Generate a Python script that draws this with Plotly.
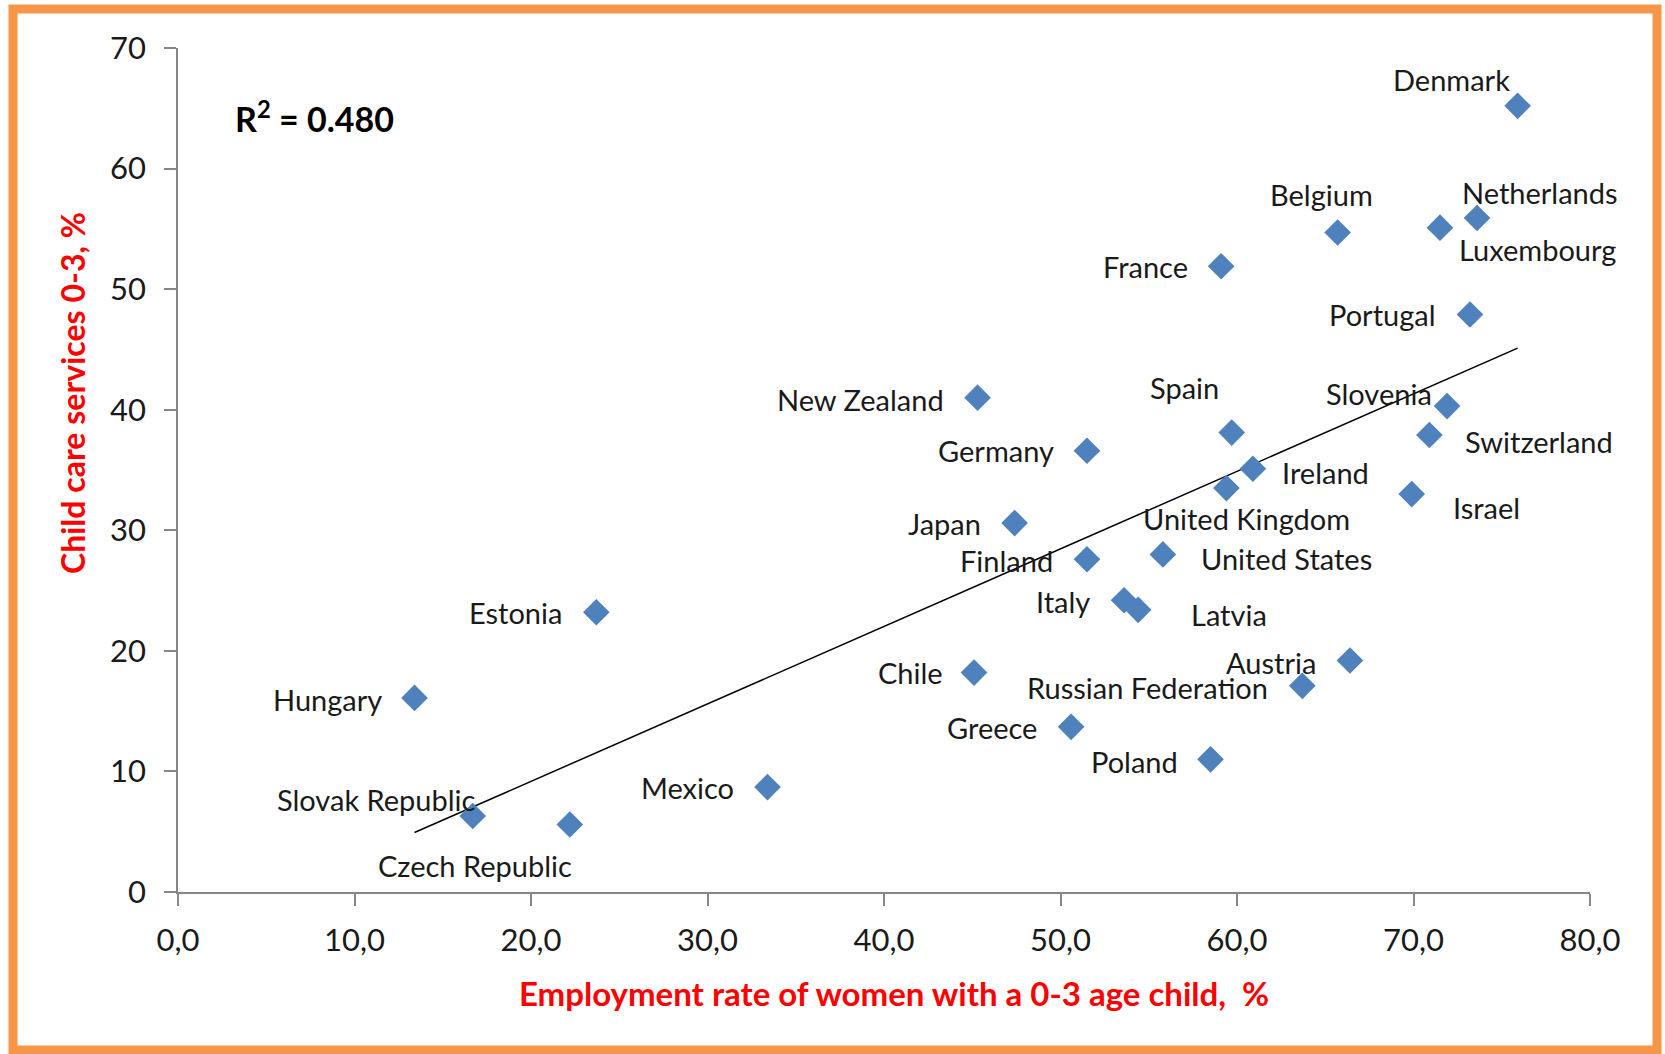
import numpy as np
import plotly.graph_objects as go

countries = ["Denmark", "Netherlands", "Luxembourg", "Belgium", "France", "Portugal",
             "Slovenia", "Switzerland", "Israel", "Spain", "Ireland", "United Kingdom",
             "United States", "New Zealand", "Germany", "Japan", "Finland", "Italy",
             "Latvia", "Estonia", "Chile", "Austria", "Russian Federation", "Greece",
             "Poland", "Hungary", "Mexico", "Slovak Republic", "Czech Republic"]
employment = [75.9, 73.6, 71.5, 65.7, 59.1, 73.2,
              71.9, 70.9, 69.9, 59.7, 60.9, 59.4,
              55.8, 45.3, 51.5, 47.4, 51.5, 53.6,
              54.4, 23.7, 45.1, 66.4, 63.7, 50.6,
              58.5, 13.4, 33.4, 16.7, 22.2]
childcare = [65.2, 55.9, 55.1, 54.7, 51.9, 47.9,
             40.3, 37.9, 33.0, 38.1, 35.1, 33.5,
             28.0, 41.0, 36.6, 30.6, 27.6, 24.2,
             23.4, 23.2, 18.2, 19.2, 17.1, 13.7,
             11.0, 16.1, 8.7, 6.3, 5.6]
x_ticks = [0, 10, 20, 30, 40, 50, 60, 70, 80]
x_tick_labels = ["0,0", "10,0", "20,0", "30,0", "40,0", "50,0", "60,0", "70,0", "80,0"]
y_ticks = [0, 10, 20, 30, 40, 50, 60, 70]
r2_text = "R<sup>2</sup> = 0.480"

# label offsets (pixels, right / up) relative to the marker
label_offsets = {
    "Denmark": (-66, 26), "Netherlands": (63, 26), "Luxembourg": (98, -22),
    "Belgium": (-16, 38), "France": (-76, 0), "Portugal": (-87, 0),
    "Slovenia": (-68, 13), "Switzerland": (110, -6), "Israel": (75, -13),
    "Spain": (-47, 45), "Ireland": (73, -4), "United Kingdom": (20, -30),
    "United States": (124, -4), "New Zealand": (-117, -2), "Germany": (-91, 0),
    "Japan": (-70, 0), "Finland": (-80, -1), "Italy": (-61, -1),
    "Latvia": (91, -5), "Estonia": (-81, 0), "Chile": (-64, 0),
    "Austria": (-79, -2), "Russian Federation": (-155, -2), "Greece": (-79, -1),
    "Poland": (-76, -2), "Hungary": (-87, -2), "Mexico": (-80, 0),
    "Slovak Republic": (-96, 17), "Czech Republic": (-95, -41),
}

W, H = 1665, 1054
ml, mr, mt, mb = 178, 75, 48, 162
pw, ph = W - ml - mr, H - mt - mb


def px(x):
    return (x - ml) / pw


def py(y):
    return 1 - (y - mt) / ph


font_family = "Lato, 'Open Sans', sans-serif"

fig = go.Figure()

# linear trendline from data
coef = np.polyfit(employment, childcare, 1)
xs = np.array([min(employment), max(employment)])
fig.add_trace(go.Scatter(x=xs, y=np.polyval(coef, xs), mode="lines",
                         line=dict(color="black", width=1.5), hoverinfo="skip",
                         showlegend=False))

fig.add_trace(go.Scatter(x=employment, y=childcare, mode="markers",
                         marker=dict(symbol="diamond", size=20.5, color="#4F81BD"),
                         text=countries, showlegend=False))

for c, xv, yv in zip(countries, employment, childcare):
    dx, dy = label_offsets[c]
    fig.add_annotation(x=xv, y=yv, text=c, showarrow=False, xshift=dx, yshift=dy,
                       xanchor="center", yanchor="middle",
                       font=dict(family=font_family, size=29, color="#1a1a1a"))

fig.add_annotation(x=px(314), y=py(117), xref="paper", yref="paper",
                   xanchor="center", yanchor="middle",
                   text=r2_text, showarrow=False,
                   font=dict(family=font_family, size=34, color="black", weight="bold"))

fig.add_annotation(x=px(894), y=py(993), xref="paper", yref="paper",
                   xanchor="center", yanchor="middle",
                   text="Employment rate of women with a 0-3 age child,  %", showarrow=False,
                   font=dict(family=font_family, size=33, color="#FF0000", weight="bold"))
fig.add_annotation(x=px(72), y=py(393), xref="paper", yref="paper",
                   xanchor="center", yanchor="middle",
                   text="Child care services 0-3, %", showarrow=False, textangle=-90,
                   font=dict(family=font_family, size=32, color="#FF0000", weight="bold"))

# orange frame
fig.add_shape(type="rect", xref="paper", yref="paper",
              x0=px(13), x1=px(1657), y0=py(1050), y1=py(9),
              line=dict(color="#F79646", width=9), layer="below")

axis_common = dict(showgrid=False, zeroline=False, showline=True, linecolor="#868686",
                   linewidth=1.5, ticks="outside", ticklen=12, tickcolor="#868686",
                   tickwidth=1.5,
                   tickfont=dict(family=font_family, size=31, color="#1a1a1a"))
fig.update_xaxes(range=[0, 80], tickvals=x_ticks, ticktext=x_tick_labels,
                 ticklabelstandoff=8, **axis_common)
fig.update_yaxes(range=[0, 70], tickvals=y_ticks, ticklabelstandoff=12, **axis_common)

fig.update_layout(width=W, height=H, margin=dict(l=ml, r=mr, t=mt, b=mb),
                  paper_bgcolor="white", plot_bgcolor="white")

fig.write_html("out.html", config={"displayModeBar": False},
               post_script="document.body.style.margin='0';document.body.style.overflow='hidden';")
